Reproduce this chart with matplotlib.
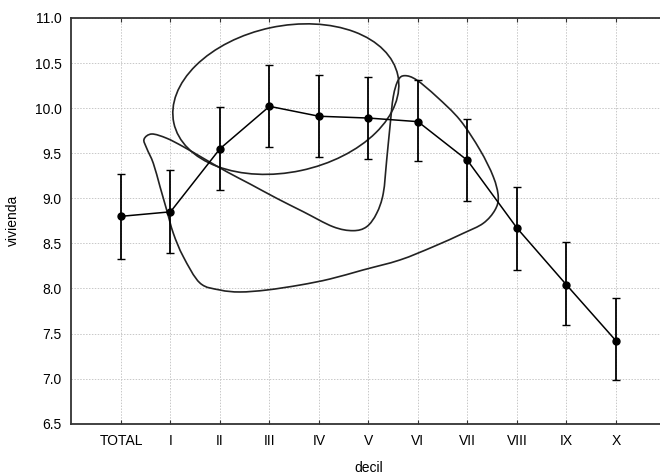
import numpy as np
import matplotlib
matplotlib.use("Agg")
import matplotlib.pyplot as plt
from matplotlib.patches import Ellipse, PathPatch
from matplotlib.path import Path
from matplotlib.transforms import Affine2D

plt.rcParams['font.family'] = ['Liberation Sans', 'DejaVu Sans']

# deciles and mean values with their confidence limits
deciles = ["TOTAL", "I", "II", "III", "IV", "V", "VI", "VII", "VIII", "IX", "X"]
vivienda = [8.80, 8.85, 9.55, 10.02, 9.91, 9.89, 9.85, 9.42, 8.67, 8.04, 7.42]
lower = [8.33, 8.39, 9.09, 9.57, 9.46, 9.44, 9.41, 8.97, 8.21, 7.60, 6.98]
upper = [9.27, 9.31, 10.01, 10.48, 10.37, 10.35, 10.31, 9.88, 9.12, 8.51, 7.89]

# hand-drawn oval around deciles II-VI (centre in data units, axes in screen pixels)
oval_center = (3.33, 10.10)
oval_width_px = 229
oval_height_px = 146
oval_angle = 12

# hand-drawn loop, outline points in data units
loop_x = [0.465, 0.620, 0.923, 1.259, 1.663, 2.135, 2.606, 3.145, 3.683, 4.283,
          4.687, 4.964, 5.166, 5.299, 5.368, 5.434, 5.501, 5.602, 5.737, 5.974,
          6.378, 6.848, 7.253, 7.521, 7.622, 7.556, 7.319, 6.915, 6.309, 5.636,
          4.889, 4.222, 3.616, 2.949, 2.404, 2.000, 1.596, 1.259, 1.057, 0.923,
          0.788, 0.653, 0.519]
loop_y = [9.655, 9.713, 9.666, 9.572, 9.444, 9.295, 9.159, 9.000, 8.851, 8.685,
          8.641, 8.685, 8.834, 9.055, 9.425, 9.794, 10.127, 10.312, 10.360, 10.312,
          10.127, 9.869, 9.536, 9.240, 9.018, 8.870, 8.723, 8.612, 8.463, 8.316,
          8.205, 8.105, 8.038, 7.983, 7.961, 7.983, 8.060, 8.352, 8.612, 8.870,
          9.129, 9.388, 9.555]

fig = plt.figure(figsize=(6.6, 4.74), dpi=100)
ax = fig.add_axes([0.1076, 0.1061, 0.8924, 0.8560])

x = np.arange(len(deciles))
vals = np.array(vivienda)
err = [vals - np.array(lower), np.array(upper) - vals]

ax.errorbar(x, vals, yerr=err, fmt='none', ecolor='black', elinewidth=1.3,
            capsize=3, capthick=1.0, zorder=3)
ax.plot(x, vals, color='black', linewidth=1.1, marker='o', markersize=5,
        zorder=4)

ax.set_xlim(-1.01, 10.89)
ax.set_ylim(6.5, 11.0)
ax.set_xticks(x)
ax.set_xticklabels(deciles)
ax.set_yticks(np.arange(6.5, 11.01, 0.5))
ax.set_yticklabels([f"{v:.1f}" for v in np.arange(6.5, 11.01, 0.5)])

ax.grid(True, color='#c8c8c8', linestyle=(0, (1.5, 1.5)), linewidth=0.7)
ax.set_axisbelow(True)

ax.tick_params(axis='x', direction='in', length=3, top=True, pad=7.5,
               labelsize=10, color='#333333')
ax.tick_params(axis='y', length=0, pad=6.5, labelsize=10)
for side in ['left', 'bottom', 'top']:
    ax.spines[side].set_color('#333333')
    ax.spines[side].set_linewidth(1.3)
ax.spines['right'].set_visible(False)

ax.set_xlabel("decil", fontsize=10)
ax.set_ylabel("vivienda", fontsize=10)
ax.xaxis.set_label_coords(0.505, -0.093)
ax.yaxis.set_label_coords(-0.087, 0.5)

# pixels per data unit, to keep the oval's shape in screen space
bbox = ax.get_position()
px_x = bbox.width * fig.get_figwidth() * fig.dpi / (ax.get_xlim()[1] - ax.get_xlim()[0])
px_y = bbox.height * fig.get_figheight() * fig.dpi / (ax.get_ylim()[1] - ax.get_ylim()[0])

oval = Ellipse((0, 0), oval_width_px, oval_height_px, angle=oval_angle,
               fill=False, edgecolor='#222222', linewidth=1.2,
               transform=Affine2D().scale(1 / px_x, 1 / px_y)
               .translate(*oval_center) + ax.transData)
ax.add_patch(oval)

# smooth closed outline through the loop points (Catmull-Rom as cubic Beziers)
pts = np.column_stack([loop_x, loop_y])
n = len(pts)
verts = [pts[0]]
codes = [Path.MOVETO]
for i in range(n):
    p0, p1, p2, p3 = pts[i - 1], pts[i], pts[(i + 1) % n], pts[(i + 2) % n]
    verts += [p1 + (p2 - p0) / 6, p2 - (p3 - p1) / 6, p2]
    codes += [Path.CURVE4] * 3
loop = PathPatch(Path(verts, codes), fill=False, edgecolor='#222222',
                 linewidth=1.2)
ax.add_patch(loop)

fig.savefig("out.png", dpi=100)
